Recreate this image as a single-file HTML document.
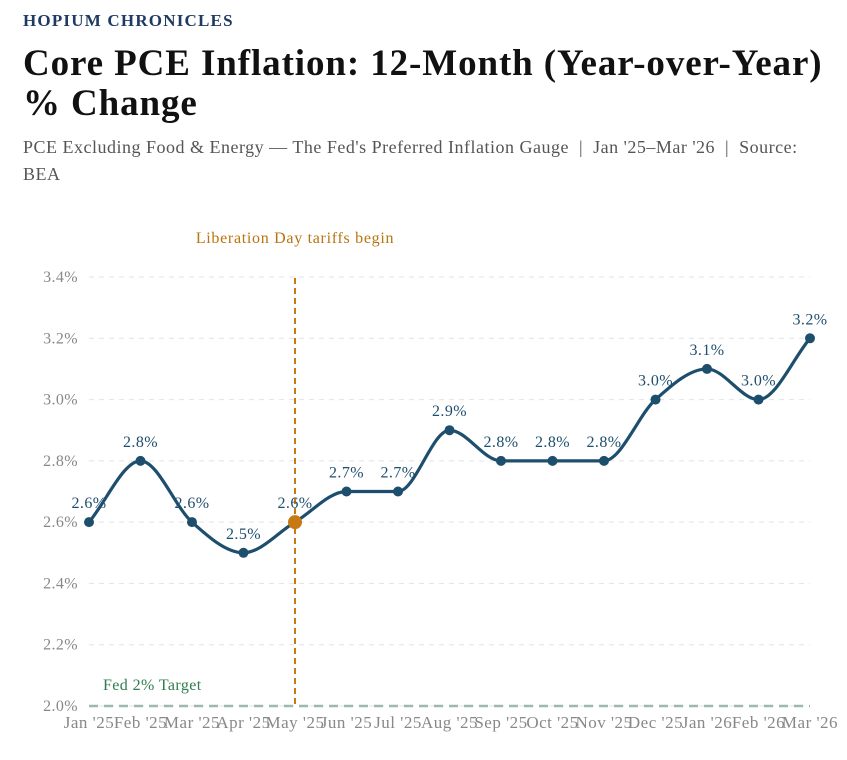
<!DOCTYPE html>
<html><head><meta charset="utf-8"><style>
body{margin:0;background:#fff;width:847px;height:760px;overflow:hidden;font-family:"Liberation Serif",serif}
.brand{position:absolute;left:23px;top:11px;font-size:17px;font-weight:bold;color:#1f3a63;letter-spacing:1.2px}
.title{position:absolute;left:23px;top:44px;width:815px;font-size:37px;font-weight:bold;color:#111;line-height:40px;letter-spacing:0.9px}
.sub{position:absolute;left:23px;top:134px;width:792px;font-size:18px;color:#555;line-height:27px;letter-spacing:0.5px}
svg{position:absolute;left:0;top:0}
</style></head><body>
<div class="brand">HOPIUM CHRONICLES</div>
<div class="title">Core PCE Inflation: 12-Month (Year-over-Year) % Change</div>
<div class="sub">PCE Excluding Food &amp; Energy — The Fed's Preferred Inflation Gauge &nbsp;|&nbsp; Jan '25–Mar '26 &nbsp;|&nbsp; Source: BEA</div>
<svg id="chart" width="847" height="760"></svg>
<script>
const categories=["Jan '25","Feb '25","Mar '25","Apr '25","May '25","Jun '25","Jul '25","Aug '25","Sep '25","Oct '25","Nov '25","Dec '25","Jan '26","Feb '26","Mar '26"];
const values=[2.6,2.8,2.6,2.5,2.6,2.7,2.7,2.9,2.8,2.8,2.8,3.0,3.1,3.0,3.2];
const yTicks=[2.0,2.2,2.4,2.6,2.8,3.0,3.2,3.4];
const highlightIndex=4;
const targetValue=2.0;

const NS="http://www.w3.org/2000/svg";
const svg=document.getElementById('chart');
const x0=89,x1=810,yMin=2.0,yMax=3.4,py0=706,py1=277;
const X=i=>x0+(x1-x0)*i/(categories.length-1);
const Y=v=>py0-(v-yMin)/(yMax-yMin)*(py0-py1);
function mk(t,a,txt){const e=document.createElementNS(NS,t);for(const k in a)e.setAttribute(k,a[k]);if(txt!==undefined)e.textContent=txt;svg.appendChild(e);return e;}
const FF='Liberation Serif,serif';

yTicks.forEach(v=>{
  const g=mk('line',{x1:x0,x2:x1,y1:Y(v),y2:Y(v),stroke:'#e3e3e3','stroke-dasharray':'5,5'});
  
  
  const t=mk('text',{x:78,y:Y(v)+5,'text-anchor':'end','font-size':'16','letter-spacing':'0.4',fill:'#888','font-family':FF},v.toFixed(1)+'%');
  
  
});
const tl=mk('line',{x1:x0,x2:x1,y1:Y(targetValue),y2:Y(targetValue),stroke:'#9fb8ae','stroke-width':2.5,'stroke-dasharray':'9,6'});


const tt=mk('text',{x:103,y:Y(targetValue)-16,'font-size':'16','letter-spacing':'0.4',fill:'#2e7d4f','font-family':FF},'Fed 2% Target');



categories.forEach((c,i)=>{
  const t=mk('text',{x:X(i),y:728,'text-anchor':'middle','font-size':'17','letter-spacing':'0.5',fill:'#888','font-family':FF},c);
  
  
});

const vl=mk('line',{x1:X(highlightIndex),x2:X(highlightIndex),y1:278,y2:706,stroke:'#c77a12','stroke-width':2,'stroke-dasharray':'6,4'});


const vt=mk('text',{x:X(highlightIndex),y:243,'text-anchor':'middle','font-size':'16','letter-spacing':'0.7',fill:'#b8740f','font-family':FF},'Liberation Day tariffs begin');



const pts=values.map((v,i)=>[X(i),Y(v)]);
const n=pts.length,m=[],d=[];
for(let i=0;i<n-1;i++)d.push((pts[i+1][1]-pts[i][1])/(pts[i+1][0]-pts[i][0]));
for(let i=0;i<n;i++){
  if(i===0)m.push(d[0]);else if(i===n-1)m.push(d[n-2]);
  else if(d[i-1]*d[i]<=0)m.push(0);
  else{const h=pts[i][0]-pts[i-1][0],h2=pts[i+1][0]-pts[i][0];const p=(d[i-1]*h2+d[i]*h)/(h+h2);
    m.push((Math.sign(d[i-1])+Math.sign(d[i]))*Math.min(Math.abs(d[i-1]),Math.abs(d[i]),0.5*Math.abs(p)));}
}
let path='M'+pts[0][0]+','+pts[0][1];
for(let i=0;i<n-1;i++){const h=(pts[i+1][0]-pts[i][0])/3;
  path+=` C${pts[i][0]+h},${pts[i][1]+m[i]*h} ${pts[i+1][0]-h},${pts[i+1][1]-m[i+1]*h} ${pts[i+1][0]},${pts[i+1][1]}`;}
const ln=mk('path',{d:path,fill:'none',stroke:'#1e4e6e','stroke-width':3.2});



values.forEach((v,i)=>{
  const hi=i===highlightIndex;
  const c=mk('circle',{cx:X(i),cy:Y(v),r:hi?7:5,fill:hi?'#c77a12':'#1e4e6e'});
  
  
  const t=mk('text',{x:X(i),y:Y(v)-14,'text-anchor':'middle','font-size':'16','letter-spacing':'0.4',fill:'#1e4e6e','font-family':FF},v.toFixed(1)+'%');
  
  
});
</script>
</body></html>
